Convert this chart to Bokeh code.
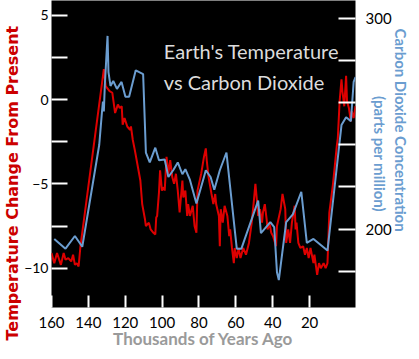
from math import pi
from bokeh.plotting import figure
from bokeh.models import Range1d, LinearAxis, FixedTicker, Label, Title
from bokeh.embed import file_html
from bokeh.resources import INLINE

# Temperature change from present (deg C) vs thousands of years ago
temp_age = [160.0, 158.5, 157.0, 154.9, 153.4, 152.4, 150.9, 149.3, 148.3, 147.3, 146.3, 145.3, 144.3,
            131.6, 130.6, 128.5, 127.0, 125.5, 124.0, 123.0, 121.9, 121.4, 120.4, 118.9, 117.4, 116.9,
            115.9, 114.8, 113.8, 111.8, 110.8, 109.3, 108.8, 107.2, 106.2, 104.7, 103.7, 103.2, 102.7,
            101.7, 101.1, 100.1, 99.1, 98.6, 97.6, 96.6, 95.6, 94.5, 93.5, 92.5, 91.5, 90.5, 89.0, 88.5,
            87.4, 86.4, 85.9, 84.9, 83.4, 82.4, 81.4, 80.8, 78.8, 77.3, 76.3, 75.8, 74.8, 73.2, 72.2,
            71.2, 70.7, 69.2, 68.7, 68.2, 67.1, 66.1, 64.6, 63.6, 63.1, 62.1, 61.1, 60.6, 59.5, 58.5,
            57.5, 56.0, 54.5, 52.9, 51.4, 50.4, 49.4, 48.4, 47.9, 46.9, 45.8, 45.3, 44.3, 43.3, 42.8,
            41.8, 40.8, 39.8, 38.2, 37.7, 35.7, 34.7, 33.2, 32.7, 31.6, 30.6, 29.6, 28.1, 27.6, 27.1,
            26.1, 25.0, 23.5, 22.5, 21.5, 20.5, 19.5, 17.9, 17.4, 15.9, 14.9, 13.9, 12.4, 11.3, 10.3,
            9.3, 7.3, 5.2, 4.7, 3.7, 2.7, 2.2, 1.2, 0.2, -0.3, -1.3, -2.4, -2.9, -3.9, -4.9]
temp = [-9.1, -9.7, -9.1, -9.8, -9.1, -9.5, -9.4, -9.6, -9.2, -9.8, -9.7, -9.9, -8.7,
        1.8, 0.8, 0.5, 0.4, -0.8, -0.3, -0.5, -0.4, -1.5, -1.1, -1.6, -1.8, -1.6,
        -2.4, -3.0, -3.6, -4.8, -6.2, -7.1, -7.5, -7.3, -7.7, -7.9, -8.0, -7.0, -6.9,
        -5.5, -4.2, -5.4, -5.2, -5.4, -3.4, -4.4, -3.6, -4.6, -5.0, -4.4, -5.4, -6.7, -4.8, -5.8,
        -5.4, -6.9, -6.2, -6.9, -6.3, -7.5, -7.9, -5.4, -4.4, -3.4, -2.9, -3.6, -4.6, -5.6, -6.2,
        -5.6, -6.2, -6.9, -8.7, -6.5, -7.3, -6.3, -6.9, -8.1, -7.7, -8.8, -9.7, -8.8, -9.4, -8.8,
        -9.4, -8.8, -9.2, -8.5, -7.3, -6.2, -5.0, -6.2, -6.9, -6.5, -7.3, -6.7, -6.2, -7.1, -7.7,
        -7.3, -7.9, -8.1, -8.7, -7.5, -6.5, -5.6, -6.5, -8.5, -7.7, -8.5, -7.3, -6.3, -7.7, -7.3,
        -8.5, -8.8, -8.7, -9.2, -8.8, -9.4, -8.8, -9.7, -9.2, -10.4, -9.7, -10.0, -9.7, -10.0, -9.7,
        -6.7, -5.0, -2.7, -2.3, -0.1, 1.2, 0.5, -0.4, 1.4, -0.1, -0.5, -1.3, -0.7, -1.1, -0.4]

# CO2 concentration (ppm)
co2_age = [158.5, 152.4, 147.3, 143.3, 134.1, 132.6, 132.1, 131.6, 131.1, 129.6, 129.1, 128.0, 126.5,
           124.5, 122.0, 119.9, 117.9, 114.3, 110.3, 108.8, 106.7, 103.7, 101.7, 98.6, 96.6, 94.0,
           91.5, 89.0, 87.4, 84.9, 81.4, 77.3, 76.3, 73.7, 71.7, 68.7, 65.1, 59.5, 57.0, 47.9, 46.4,
           41.3, 39.2, 37.7, 36.7, 32.7, 29.1, 24.5, 21.5, 17.9, 10.3, 2.7, 0.2, -2.4, -3.9, -4.9]
co2 = [195.3, 190.7, 196.7, 191.6, 240.0, 255.8, 260.5, 255.8, 267.9, 291.6, 274.4, 267.9, 270.2,
       266.5, 269.8, 262.8, 262.8, 275.3, 273.5, 236.3, 231.6, 238.6, 232.6, 233.0, 224.7, 227.9,
       231.6, 226.0, 228.4, 223.3, 212.1, 224.7, 227.9, 224.7, 218.6, 227.9, 236.3, 190.7, 190.7, 213.5, 198.1,
       203.3, 200.9, 179.5, 175.8, 203.3, 207.0, 217.7, 193.5, 195.3, 189.8, 249.3, 253.0, 251.2, 269.8, 272.1]

x_ticks = [160, 140, 120, 100, 80, 60, 40, 20]
temp_ticks = [5, 0, -5, -10]
temp_minor = [2.5, -2.5, -7.5]
co2_ticks = [300, 200]
co2_minor = [280, 260, 240, 220, 180]

TICK_FONT = "Lato"
RED = "#cc0000"
BLUE = "#6b9dd0"

p = figure(width=411, height=351,
           x_range=Range1d(160, -4.9), y_range=Range1d(-12.33, 5.87),
           output_backend="svg", toolbar_location=None,
           min_border_left=42, min_border_right=49, min_border_top=0, min_border_bottom=43,
           background_fill_color="black", border_fill_color="white")
p.outline_line_color = None
p.xgrid.grid_line_color = None
p.ygrid.grid_line_color = None
p.extra_y_ranges = {"co2": Range1d(162.8, 308.4)}

p.line(temp_age, temp, line_color="#dd0000", line_width=2)
p.line(co2_age, co2, line_color=BLUE, line_width=2, y_range_name="co2")

# bottom axis
xa = p.xaxis[0]
xa.ticker = FixedTicker(ticks=x_ticks)
xa.axis_line_color = None
xa.major_tick_in = 12
xa.major_tick_out = 0
xa.major_tick_line_color = "white"
xa.major_tick_line_width = 2
xa.minor_tick_line_color = None
xa.major_label_standoff = 9
xa.major_label_text_font = TICK_FONT
xa.major_label_text_font_size = "15px"
xa.major_label_text_color = "black"
xa.axis_label = "Thousands of Years Ago"
xa.axis_label_standoff = -3
xa.axis_label_text_font = "Lato"
xa.axis_label_text_font_size = "17px"
xa.axis_label_text_font_style = "bold"
xa.axis_label_text_color = "#9a9a9a"

# left axis
ya = p.yaxis[0]
ya.ticker = FixedTicker(ticks=temp_ticks, minor_ticks=temp_minor)
ya.axis_line_color = None
ya.major_tick_in = 16
ya.major_tick_out = 0
ya.minor_tick_in = 16
ya.minor_tick_out = 0
ya.major_tick_line_color = "white"
ya.minor_tick_line_color = "white"
ya.major_tick_line_width = 2
ya.minor_tick_line_width = 2
ya.major_label_standoff = 3
ya.major_label_text_font = TICK_FONT
ya.major_label_text_font_size = "14px"
ya.major_label_text_color = "black"

# right axis
ra = LinearAxis(y_range_name="co2",
                ticker=FixedTicker(ticks=co2_ticks, minor_ticks=co2_minor))
ra.axis_line_color = None
ra.major_tick_in = 17
ra.major_tick_out = 0
ra.minor_tick_in = 17
ra.minor_tick_out = 0
ra.major_tick_line_color = "white"
ra.minor_tick_line_color = "white"
ra.major_tick_line_width = 2
ra.minor_tick_line_width = 2
ra.major_label_standoff = 10
ra.major_label_text_font = TICK_FONT
ra.major_label_text_font_size = "15px"
ra.major_label_text_color = "black"
ra.axis_label = "(parts per million)"
ra.axis_label_standoff = -24
ra.axis_label_text_font = "Lato"
ra.axis_label_text_font_size = "15px"
ra.axis_label_text_font_style = "bold"
ra.axis_label_text_color = BLUE
p.add_layout(ra, "right")

p.add_layout(Title(text="Carbon Dioxide Concentration", align="left", offset=28, standoff=0,
                   text_font="Lato", text_font_size="15px", text_font_style="bold",
                   text_color=BLUE), "right")

p.add_layout(Title(text="Temperature Change From Present", align="left", offset=-33, standoff=0,
                   text_font="DejaVu Sans", text_font_size="16px", text_font_style="bold",
                   text_color=RED), "left")

# chart title inside the plot
p.add_layout(Label(x=99.1, y=2.85, text="Earth's Temperature", text_font="Lato",
                   text_font_size="20px", text_color="#dcdcdc", text_baseline="alphabetic"))
p.add_layout(Label(x=99.1, y=1.05, text="vs Carbon Dioxide", text_font="Lato",
                   text_font_size="20px", text_color="#dcdcdc", text_baseline="alphabetic"))

open("out.html", "w").write(file_html(p, INLINE))
